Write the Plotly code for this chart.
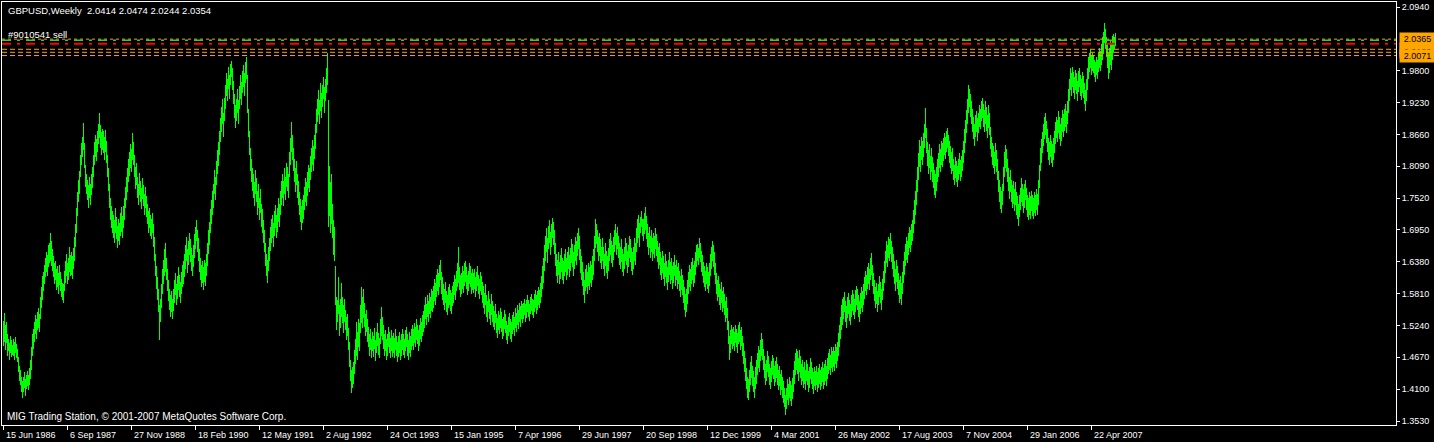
import pandas as pd
import plotly.graph_objects as go

# ---------------- data ----------------
chart_title = "GBPUSD,Weekly\u00a0\u00a02.0414 2.0474 2.0244 2.0354"
order_text = "#9010541 sell"
footer_text = "MIG Trading Station, \u00a9 2001-2007 MetaQuotes Software Corp."
first_week = "1986-06-15"

week_low = [
    1.487, 1.495, 1.480, 1.492, 1.470, 1.478, 1.462, 1.475, 1.468, 1.472,
    1.470, 1.462, 1.475, 1.466, 1.458, 1.440, 1.425, 1.418, 1.405, 1.394,
    1.405, 1.412, 1.398, 1.410, 1.415, 1.408, 1.418, 1.428, 1.445, 1.470,
    1.482, 1.495, 1.508, 1.500, 1.515, 1.520, 1.512, 1.535, 1.555, 1.570,
    1.585, 1.598, 1.610, 1.620, 1.612, 1.628, 1.635, 1.640, 1.630, 1.622,
    1.610, 1.598, 1.605, 1.588, 1.592, 1.580, 1.596, 1.585, 1.575, 1.570,
    1.564, 1.585, 1.600, 1.612, 1.598, 1.605, 1.620, 1.612, 1.615, 1.608,
    1.625, 1.640, 1.665, 1.690, 1.720, 1.745, 1.760, 1.790, 1.812, 1.825,
    1.838, 1.805, 1.772, 1.760, 1.748, 1.735, 1.752, 1.740, 1.758, 1.770,
    1.790, 1.812, 1.825, 1.818, 1.835, 1.848, 1.860, 1.842, 1.830, 1.838,
    1.832, 1.820, 1.835, 1.815, 1.790, 1.765, 1.735, 1.712, 1.698, 1.690,
    1.680, 1.672, 1.690, 1.678, 1.662, 1.675, 1.668, 1.684, 1.692, 1.680,
    1.698, 1.712, 1.735, 1.748, 1.762, 1.780, 1.792, 1.805, 1.798, 1.820,
    1.812, 1.790, 1.768, 1.775, 1.752, 1.740, 1.758, 1.745, 1.732, 1.750,
    1.738, 1.722, 1.735, 1.718, 1.705, 1.690, 1.698, 1.685, 1.678, 1.690,
    1.665, 1.640, 1.612, 1.590, 1.570, 1.548, 1.498, 1.530, 1.555, 1.580,
    1.598, 1.612, 1.620, 1.605, 1.585, 1.568, 1.552, 1.540, 1.548, 1.535,
    1.550, 1.565, 1.578, 1.560, 1.572, 1.588, 1.575, 1.565, 1.580, 1.592,
    1.598, 1.610, 1.625, 1.640, 1.618, 1.632, 1.650, 1.638, 1.622, 1.612,
    1.628, 1.645, 1.660, 1.675, 1.655, 1.640, 1.620, 1.605, 1.592, 1.600,
    1.588, 1.602, 1.595, 1.612, 1.630, 1.652, 1.668, 1.690, 1.705, 1.722,
    1.735, 1.760, 1.748, 1.775, 1.795, 1.810, 1.830, 1.852, 1.870, 1.885,
    1.862, 1.890, 1.912, 1.935, 1.925, 1.948, 1.930, 1.955, 1.968, 1.945,
    1.920, 1.895, 1.878, 1.890, 1.905, 1.885, 1.912, 1.930, 1.918, 1.940,
    1.950, 1.935, 1.958, 1.965, 1.905, 1.862, 1.830, 1.800, 1.780, 1.765,
    1.752, 1.738, 1.760, 1.745, 1.722, 1.735, 1.712, 1.725, 1.700, 1.690,
    1.672, 1.655, 1.630, 1.612, 1.600, 1.622, 1.640, 1.658, 1.672, 1.680,
    1.665, 1.685, 1.698, 1.680, 1.692, 1.710, 1.700, 1.722, 1.740, 1.752,
    1.738, 1.760, 1.748, 1.772, 1.765, 1.752, 1.790, 1.812, 1.835, 1.820,
    1.800, 1.780, 1.762, 1.775, 1.752, 1.740, 1.722, 1.710, 1.695, 1.708,
    1.715, 1.730, 1.745, 1.738, 1.755, 1.770, 1.762, 1.785, 1.798, 1.812,
    1.800, 1.822, 1.840, 1.868, 1.888, 1.900, 1.885, 1.908, 1.895, 1.915,
    1.930, 1.905, 1.925, 1.940, 1.955, 1.700, 1.720, 1.690, 1.705, 1.680,
    1.650, 1.640, 1.560, 1.515, 1.530, 1.545, 1.505, 1.520, 1.540, 1.528,
    1.510, 1.530, 1.515, 1.498, 1.505, 1.480, 1.450, 1.425, 1.403, 1.412,
    1.420, 1.438, 1.455, 1.470, 1.462, 1.485, 1.478, 1.510, 1.528, 1.520,
    1.538, 1.522, 1.505, 1.512, 1.495, 1.485, 1.470, 1.480, 1.465, 1.478,
    1.468, 1.482, 1.460, 1.475, 1.488, 1.472, 1.465, 1.490, 1.505, 1.498,
    1.482, 1.470, 1.478, 1.462, 1.470, 1.485, 1.475, 1.465, 1.478, 1.468,
    1.475, 1.465, 1.480, 1.470, 1.458, 1.468, 1.475, 1.462, 1.470, 1.480,
    1.472, 1.465, 1.478, 1.485, 1.470, 1.462, 1.475, 1.468, 1.480, 1.488,
    1.480, 1.492, 1.485, 1.498, 1.490, 1.478, 1.488, 1.500, 1.495, 1.505,
    1.512, 1.520, 1.535, 1.525, 1.540, 1.530, 1.545, 1.538, 1.550, 1.548,
    1.555, 1.568, 1.560, 1.575, 1.585, 1.578, 1.592, 1.605, 1.580, 1.570,
    1.560, 1.552, 1.565, 1.548, 1.542, 1.555, 1.560, 1.550, 1.545, 1.558,
    1.565, 1.578, 1.570, 1.585, 1.592, 1.600, 1.588, 1.575, 1.580, 1.590,
    1.582, 1.595, 1.602, 1.590, 1.578, 1.585, 1.598, 1.592, 1.580, 1.588,
    1.582, 1.590, 1.575, 1.585, 1.595, 1.580, 1.572, 1.585, 1.578, 1.565,
    1.555, 1.545, 1.560, 1.540, 1.530, 1.548, 1.535, 1.525, 1.542, 1.530,
    1.522, 1.515, 1.528, 1.510, 1.502, 1.515, 1.508, 1.520, 1.512, 1.500,
    1.505, 1.518, 1.510, 1.498, 1.490, 1.505, 1.512, 1.500, 1.495, 1.508,
    1.515, 1.505, 1.520, 1.512, 1.525, 1.518, 1.530, 1.522, 1.535, 1.528,
    1.535, 1.542, 1.530, 1.538, 1.548, 1.540, 1.532, 1.545, 1.550, 1.542,
    1.538, 1.548, 1.555, 1.545, 1.552, 1.560, 1.555, 1.565, 1.575, 1.590,
    1.600, 1.622, 1.640, 1.655, 1.635, 1.660, 1.672, 1.650, 1.665, 1.680,
    1.668, 1.652, 1.630, 1.612, 1.600, 1.615, 1.598, 1.608, 1.620, 1.605,
    1.598, 1.612, 1.620, 1.605, 1.615, 1.625, 1.610, 1.622, 1.635, 1.628,
    1.612, 1.625, 1.640, 1.632, 1.648, 1.660, 1.642, 1.618, 1.605, 1.595,
    1.578, 1.564, 1.585, 1.592, 1.580, 1.595, 1.588, 1.600, 1.592, 1.605,
    1.615, 1.640, 1.662, 1.670, 1.655, 1.640, 1.648, 1.635, 1.625, 1.640,
    1.625, 1.612, 1.630, 1.618, 1.608, 1.622, 1.640, 1.650, 1.635, 1.628,
    1.642, 1.655, 1.668, 1.650, 1.660, 1.645, 1.632, 1.625, 1.638, 1.620,
    1.612, 1.625, 1.640, 1.632, 1.618, 1.628, 1.645, 1.638, 1.622, 1.615,
    1.625, 1.640, 1.632, 1.655, 1.672, 1.680, 1.665, 1.690, 1.700, 1.685,
    1.675, 1.688, 1.695, 1.678, 1.665, 1.650, 1.662, 1.645, 1.655, 1.640,
    1.652, 1.645, 1.660, 1.648, 1.638, 1.625, 1.632, 1.615, 1.605, 1.618,
    1.608, 1.595, 1.610, 1.600, 1.588, 1.602, 1.615, 1.598, 1.605, 1.590,
    1.600, 1.612, 1.595, 1.605, 1.590, 1.598, 1.585, 1.575, 1.588, 1.578,
    1.565, 1.552, 1.540, 1.548, 1.562, 1.580, 1.592, 1.585, 1.598, 1.605,
    1.592, 1.600, 1.615, 1.628, 1.640, 1.632, 1.645, 1.638, 1.620, 1.612,
    1.600, 1.592, 1.585, 1.598, 1.590, 1.582, 1.595, 1.612, 1.625, 1.640,
    1.628, 1.615, 1.598, 1.580, 1.568, 1.575, 1.560, 1.552, 1.565, 1.548,
    1.555, 1.542, 1.530, 1.538, 1.515, 1.490, 1.462, 1.475, 1.490, 1.482,
    1.488, 1.478, 1.492, 1.485, 1.475, 1.490, 1.495, 1.480, 1.488, 1.470,
    1.455, 1.440, 1.425, 1.410, 1.395, 1.391, 1.405, 1.418, 1.430, 1.415,
    1.405, 1.395, 1.410, 1.420, 1.435, 1.448, 1.440, 1.460, 1.470, 1.462,
    1.445, 1.430, 1.418, 1.425, 1.440, 1.432, 1.418, 1.410, 1.422, 1.435,
    1.428, 1.415, 1.422, 1.430, 1.418, 1.408, 1.415, 1.400, 1.408, 1.395,
    1.385, 1.378, 1.364, 1.375, 1.390, 1.382, 1.395, 1.388, 1.380, 1.392,
    1.405, 1.420, 1.435, 1.445, 1.438, 1.425, 1.440, 1.430, 1.418, 1.425,
    1.412, 1.420, 1.408, 1.425, 1.418, 1.405, 1.412, 1.428, 1.420, 1.410,
    1.402, 1.415, 1.408, 1.418, 1.405, 1.412, 1.420, 1.408, 1.415, 1.422,
    1.410, 1.418, 1.425, 1.415, 1.428, 1.438, 1.445, 1.435, 1.448, 1.440,
    1.450, 1.442, 1.455, 1.448, 1.460, 1.470, 1.485, 1.500, 1.515, 1.525,
    1.535, 1.548, 1.530, 1.520, 1.538, 1.545, 1.532, 1.525, 1.540, 1.550,
    1.542, 1.535, 1.548, 1.560, 1.552, 1.540, 1.530, 1.545, 1.555, 1.548,
    1.560, 1.572, 1.585, 1.578, 1.590, 1.598, 1.588, 1.605, 1.615, 1.595,
    1.580, 1.568, 1.555, 1.562, 1.548, 1.560, 1.575, 1.565, 1.552, 1.570,
    1.585, 1.600, 1.618, 1.635, 1.628, 1.645, 1.640, 1.652, 1.638, 1.625,
    1.610, 1.598, 1.585, 1.602, 1.590, 1.578, 1.565, 1.572, 1.560, 1.580,
    1.600, 1.615, 1.630, 1.642, 1.635, 1.650, 1.662, 1.655, 1.668, 1.675,
    1.690, 1.705, 1.722, 1.740, 1.762, 1.785, 1.808, 1.798, 1.820, 1.812,
    1.825, 1.842, 1.860, 1.832, 1.810, 1.795, 1.805, 1.785, 1.798, 1.780,
    1.770, 1.758, 1.752, 1.765, 1.780, 1.790, 1.805, 1.798, 1.812, 1.808,
    1.818, 1.830, 1.822, 1.835, 1.842, 1.828, 1.815, 1.805, 1.795, 1.800,
    1.785, 1.775, 1.788, 1.780, 1.772, 1.785, 1.795, 1.782, 1.790, 1.800,
    1.815, 1.832, 1.850, 1.868, 1.885, 1.905, 1.915, 1.898, 1.885, 1.870,
    1.858, 1.845, 1.862, 1.870, 1.855, 1.868, 1.880, 1.875, 1.890, 1.895,
    1.880, 1.870, 1.885, 1.872, 1.860, 1.878, 1.865, 1.840, 1.825, 1.812,
    1.805, 1.795, 1.810, 1.798, 1.785, 1.762, 1.745, 1.732, 1.725, 1.740,
    1.765, 1.790, 1.805, 1.798, 1.780, 1.765, 1.750, 1.762, 1.745, 1.735,
    1.742, 1.728, 1.740, 1.722, 1.715, 1.702, 1.718, 1.730, 1.745, 1.738,
    1.725, 1.735, 1.748, 1.730, 1.718, 1.712, 1.722, 1.715, 1.728, 1.720,
    1.715, 1.725, 1.720, 1.730, 1.722, 1.740, 1.770, 1.800, 1.815, 1.832,
    1.845, 1.858, 1.865, 1.850, 1.835, 1.820, 1.812, 1.825, 1.815, 1.808,
    1.820, 1.832, 1.848, 1.860, 1.852, 1.868, 1.858, 1.845, 1.855, 1.870,
    1.862, 1.872, 1.880, 1.868, 1.885, 1.905, 1.925, 1.945, 1.935, 1.950,
    1.940, 1.930, 1.945, 1.938, 1.925, 1.942, 1.950, 1.935, 1.928, 1.940,
    1.932, 1.920, 1.907, 1.925, 1.945, 1.965, 1.978, 1.985, 1.972, 1.980,
    1.975, 1.968, 1.960, 1.972, 1.965, 1.978, 1.985, 1.980, 1.990, 2.000,
    2.010, 2.030, 2.018, 2.005, 1.985, 1.965, 1.975, 1.990, 1.982, 2.000,
    2.012, 2.018, 2.0244,
]

week_high = [
    1.532, 1.546, 1.525, 1.530, 1.508, 1.500, 1.492, 1.506, 1.498, 1.489,
    1.500, 1.495, 1.503, 1.490, 1.482, 1.468, 1.452, 1.445, 1.432, 1.425,
    1.432, 1.440, 1.428, 1.436, 1.442, 1.435, 1.448, 1.462, 1.485, 1.508,
    1.518, 1.530, 1.542, 1.535, 1.548, 1.556, 1.545, 1.575, 1.592, 1.612,
    1.620, 1.632, 1.645, 1.656, 1.650, 1.668, 1.672, 1.689, 1.675, 1.660,
    1.648, 1.636, 1.640, 1.625, 1.630, 1.618, 1.632, 1.620, 1.608, 1.600,
    1.598, 1.622, 1.640, 1.652, 1.636, 1.645, 1.664, 1.650, 1.655, 1.648,
    1.662, 1.682, 1.705, 1.735, 1.762, 1.785, 1.800, 1.830, 1.850, 1.862,
    1.886, 1.850, 1.812, 1.795, 1.785, 1.775, 1.790, 1.778, 1.795, 1.808,
    1.830, 1.852, 1.865, 1.858, 1.872, 1.885, 1.904, 1.882, 1.870, 1.876,
    1.872, 1.862, 1.874, 1.855, 1.830, 1.805, 1.778, 1.752, 1.738, 1.728,
    1.722, 1.712, 1.735, 1.718, 1.702, 1.715, 1.708, 1.725, 1.736, 1.720,
    1.738, 1.752, 1.772, 1.790, 1.805, 1.822, 1.835, 1.848, 1.840, 1.869,
    1.852, 1.830, 1.808, 1.815, 1.790, 1.778, 1.796, 1.782, 1.770, 1.788,
    1.776, 1.760, 1.772, 1.755, 1.742, 1.728, 1.735, 1.722, 1.715, 1.725,
    1.705, 1.682, 1.652, 1.630, 1.610, 1.590, 1.560, 1.572, 1.598, 1.625,
    1.642, 1.660, 1.672, 1.645, 1.625, 1.605, 1.590, 1.578, 1.585, 1.572,
    1.590, 1.605, 1.618, 1.598, 1.612, 1.628, 1.615, 1.602, 1.620, 1.632,
    1.640, 1.652, 1.668, 1.682, 1.660, 1.675, 1.690, 1.678, 1.662, 1.650,
    1.668, 1.688, 1.700, 1.712, 1.695, 1.680, 1.660, 1.645, 1.632, 1.640,
    1.628, 1.642, 1.635, 1.652, 1.672, 1.695, 1.710, 1.732, 1.748, 1.765,
    1.778, 1.802, 1.790, 1.818, 1.838, 1.852, 1.872, 1.895, 1.915, 1.930,
    1.905, 1.932, 1.955, 1.975, 1.965, 1.986, 1.972, 1.992, 1.998, 1.985,
    1.962, 1.938, 1.918, 1.930, 1.948, 1.928, 1.952, 1.972, 1.960, 1.980,
    1.990, 1.975, 1.995, 2.004, 1.972, 1.912, 1.872, 1.842, 1.822, 1.805,
    1.795, 1.780, 1.802, 1.788, 1.765, 1.778, 1.752, 1.768, 1.742, 1.732,
    1.712, 1.695, 1.672, 1.652, 1.642, 1.665, 1.680, 1.700, 1.715, 1.722,
    1.708, 1.728, 1.740, 1.722, 1.735, 1.752, 1.742, 1.765, 1.782, 1.795,
    1.782, 1.805, 1.790, 1.815, 1.808, 1.795, 1.835, 1.860, 1.888, 1.865,
    1.842, 1.822, 1.805, 1.818, 1.795, 1.782, 1.762, 1.750, 1.738, 1.748,
    1.758, 1.772, 1.788, 1.780, 1.798, 1.812, 1.805, 1.828, 1.842, 1.856,
    1.845, 1.865, 1.885, 1.912, 1.930, 1.945, 1.928, 1.958, 1.940, 1.955,
    1.968, 1.950, 1.965, 1.985, 2.012, 1.928, 1.810, 1.780, 1.795, 1.742,
    1.712, 1.700, 1.630, 1.575, 1.570, 1.610, 1.560, 1.572, 1.600, 1.575,
    1.560, 1.572, 1.552, 1.540, 1.545, 1.520, 1.495, 1.462, 1.445, 1.450,
    1.458, 1.480, 1.500, 1.530, 1.512, 1.535, 1.528, 1.560, 1.592, 1.575,
    1.590, 1.565, 1.545, 1.552, 1.535, 1.522, 1.508, 1.518, 1.500, 1.512,
    1.505, 1.520, 1.498, 1.512, 1.528, 1.510, 1.502, 1.535, 1.557, 1.540,
    1.525, 1.508, 1.515, 1.500, 1.508, 1.522, 1.512, 1.502, 1.515, 1.505,
    1.510, 1.502, 1.518, 1.505, 1.495, 1.505, 1.512, 1.498, 1.508, 1.518,
    1.508, 1.500, 1.515, 1.522, 1.508, 1.498, 1.512, 1.505, 1.518, 1.525,
    1.518, 1.528, 1.522, 1.535, 1.525, 1.515, 1.525, 1.538, 1.530, 1.542,
    1.550, 1.560, 1.575, 1.562, 1.578, 1.568, 1.582, 1.575, 1.590, 1.585,
    1.595, 1.608, 1.600, 1.615, 1.625, 1.618, 1.632, 1.641, 1.620, 1.610,
    1.598, 1.590, 1.602, 1.585, 1.578, 1.592, 1.598, 1.588, 1.582, 1.595,
    1.602, 1.615, 1.608, 1.622, 1.635, 1.664, 1.628, 1.615, 1.618, 1.630,
    1.622, 1.635, 1.640, 1.628, 1.615, 1.622, 1.635, 1.630, 1.618, 1.625,
    1.618, 1.625, 1.610, 1.620, 1.630, 1.615, 1.608, 1.620, 1.612, 1.602,
    1.595, 1.582, 1.598, 1.578, 1.568, 1.585, 1.572, 1.562, 1.580, 1.568,
    1.558, 1.550, 1.562, 1.545, 1.538, 1.550, 1.542, 1.555, 1.548, 1.535,
    1.540, 1.552, 1.545, 1.532, 1.525, 1.540, 1.546, 1.535, 1.530, 1.542,
    1.548, 1.540, 1.555, 1.546, 1.560, 1.552, 1.565, 1.558, 1.568, 1.562,
    1.565, 1.572, 1.562, 1.570, 1.578, 1.570, 1.562, 1.575, 1.580, 1.572,
    1.570, 1.580, 1.588, 1.578, 1.585, 1.592, 1.588, 1.600, 1.612, 1.630,
    1.645, 1.668, 1.685, 1.698, 1.680, 1.702, 1.712, 1.692, 1.705, 1.716,
    1.710, 1.695, 1.672, 1.652, 1.642, 1.655, 1.638, 1.650, 1.662, 1.645,
    1.640, 1.652, 1.660, 1.645, 1.655, 1.665, 1.650, 1.662, 1.678, 1.670,
    1.655, 1.668, 1.682, 1.675, 1.690, 1.698, 1.685, 1.660, 1.648, 1.638,
    1.620, 1.605, 1.625, 1.632, 1.620, 1.635, 1.628, 1.640, 1.632, 1.648,
    1.660, 1.685, 1.715, 1.705, 1.695, 1.682, 1.690, 1.678, 1.665, 1.680,
    1.665, 1.652, 1.672, 1.658, 1.648, 1.662, 1.678, 1.690, 1.675, 1.668,
    1.682, 1.695, 1.705, 1.690, 1.700, 1.685, 1.672, 1.665, 1.678, 1.660,
    1.652, 1.665, 1.680, 1.672, 1.658, 1.668, 1.685, 1.678, 1.662, 1.655,
    1.665, 1.680, 1.672, 1.698, 1.715, 1.722, 1.708, 1.718, 1.728, 1.715,
    1.715, 1.725, 1.736, 1.720, 1.705, 1.690, 1.700, 1.685, 1.695, 1.680,
    1.690, 1.685, 1.698, 1.688, 1.675, 1.665, 1.672, 1.655, 1.645, 1.658,
    1.648, 1.635, 1.652, 1.640, 1.628, 1.642, 1.655, 1.638, 1.645, 1.630,
    1.638, 1.650, 1.632, 1.642, 1.628, 1.635, 1.622, 1.612, 1.625, 1.615,
    1.605, 1.592, 1.580, 1.590, 1.605, 1.620, 1.632, 1.625, 1.638, 1.645,
    1.632, 1.640, 1.655, 1.668, 1.670, 1.662, 1.680, 1.672, 1.658, 1.650,
    1.638, 1.630, 1.622, 1.635, 1.628, 1.620, 1.635, 1.652, 1.665, 1.675,
    1.668, 1.655, 1.635, 1.618, 1.605, 1.612, 1.598, 1.590, 1.602, 1.585,
    1.592, 1.580, 1.568, 1.575, 1.555, 1.532, 1.505, 1.515, 1.525, 1.518,
    1.522, 1.512, 1.525, 1.518, 1.510, 1.525, 1.530, 1.515, 1.522, 1.505,
    1.492, 1.478, 1.465, 1.448, 1.432, 1.428, 1.445, 1.458, 1.470, 1.452,
    1.442, 1.432, 1.450, 1.462, 1.475, 1.488, 1.480, 1.498, 1.510, 1.500,
    1.482, 1.470, 1.455, 1.462, 1.478, 1.470, 1.455, 1.448, 1.460, 1.472,
    1.465, 1.452, 1.460, 1.468, 1.455, 1.445, 1.452, 1.438, 1.445, 1.432,
    1.425, 1.412, 1.400, 1.412, 1.428, 1.420, 1.432, 1.425, 1.418, 1.430,
    1.445, 1.460, 1.475, 1.482, 1.478, 1.465, 1.480, 1.470, 1.455, 1.462,
    1.450, 1.458, 1.445, 1.462, 1.455, 1.442, 1.450, 1.465, 1.458, 1.448,
    1.440, 1.450, 1.442, 1.452, 1.440, 1.448, 1.455, 1.445, 1.450, 1.458,
    1.448, 1.455, 1.462, 1.452, 1.465, 1.475, 1.482, 1.472, 1.485, 1.478,
    1.485, 1.478, 1.490, 1.485, 1.495, 1.510, 1.525, 1.540, 1.560, 1.572,
    1.575, 1.584, 1.568, 1.558, 1.575, 1.582, 1.570, 1.562, 1.578, 1.588,
    1.580, 1.572, 1.588, 1.595, 1.590, 1.578, 1.568, 1.582, 1.592, 1.585,
    1.598, 1.610, 1.622, 1.615, 1.628, 1.635, 1.625, 1.645, 1.654, 1.632,
    1.618, 1.605, 1.592, 1.600, 1.585, 1.598, 1.612, 1.602, 1.590, 1.608,
    1.622, 1.640, 1.658, 1.675, 1.668, 1.682, 1.678, 1.689, 1.675, 1.665,
    1.652, 1.640, 1.625, 1.642, 1.630, 1.618, 1.605, 1.612, 1.600, 1.620,
    1.640, 1.655, 1.670, 1.682, 1.675, 1.690, 1.700, 1.695, 1.705, 1.712,
    1.730, 1.748, 1.765, 1.785, 1.808, 1.832, 1.856, 1.845, 1.862, 1.855,
    1.868, 1.885, 1.913, 1.878, 1.852, 1.838, 1.848, 1.828, 1.842, 1.825,
    1.815, 1.802, 1.795, 1.808, 1.822, 1.832, 1.848, 1.840, 1.855, 1.850,
    1.860, 1.868, 1.862, 1.872, 1.877, 1.865, 1.855, 1.845, 1.835, 1.842,
    1.822, 1.812, 1.825, 1.818, 1.810, 1.822, 1.832, 1.820, 1.828, 1.838,
    1.855, 1.875, 1.892, 1.910, 1.930, 1.954, 1.948, 1.938, 1.925, 1.912,
    1.898, 1.885, 1.900, 1.908, 1.895, 1.905, 1.918, 1.912, 1.925, 1.931,
    1.920, 1.910, 1.925, 1.915, 1.900, 1.918, 1.905, 1.880, 1.862, 1.850,
    1.845, 1.835, 1.850, 1.838, 1.822, 1.800, 1.785, 1.772, 1.765, 1.778,
    1.808, 1.835, 1.847, 1.840, 1.822, 1.805, 1.790, 1.802, 1.785, 1.775,
    1.782, 1.768, 1.780, 1.762, 1.755, 1.742, 1.758, 1.770, 1.788, 1.778,
    1.768, 1.778, 1.784, 1.770, 1.758, 1.752, 1.762, 1.755, 1.765, 1.758,
    1.752, 1.762, 1.758, 1.768, 1.760, 1.785, 1.812, 1.842, 1.858, 1.870,
    1.885, 1.898, 1.905, 1.890, 1.875, 1.860, 1.852, 1.865, 1.855, 1.848,
    1.860, 1.872, 1.888, 1.898, 1.892, 1.908, 1.898, 1.885, 1.895, 1.910,
    1.902, 1.912, 1.920, 1.908, 1.925, 1.948, 1.965, 1.985, 1.975, 1.987,
    1.978, 1.968, 1.982, 1.975, 1.962, 1.980, 1.985, 1.972, 1.965, 1.978,
    1.970, 1.958, 1.945, 1.965, 1.985, 2.005, 2.012, 2.018, 2.008, 2.012,
    2.008, 2.000, 1.995, 2.005, 2.000, 2.012, 2.020, 2.015, 2.028, 2.040,
    2.050, 2.065, 2.055, 2.040, 2.030, 2.012, 2.020, 2.035, 2.028, 2.042,
    2.045, 2.040, 2.0474,
]

date_labels = ["15 Jun 1986", "6 Sep 1987", "27 Nov 1988", "18 Feb 1990", "12 May 1991",
               "2 Aug 1992", "24 Oct 1993", "15 Jan 1995", "7 Apr 1996", "29 Jun 1997",
               "20 Sep 1998", "12 Dec 1999", "4 Mar 2001", "26 May 2002", "17 Aug 2003",
               "7 Nov 2004", "29 Jan 2006", "22 Apr 2007"]

price_ticks = [2.0940, 1.9800, 1.9230, 1.8660, 1.8090, 1.7520, 1.6950, 1.6380,
               1.5810, 1.5240, 1.4670, 1.4100, 1.3530]

orange_levels = [2.0365, 2.0183, 2.0129, 2.0071]
order_level = 2.0344      # green dashed order line
stop_level = 2.0283       # red dash-dot line

assert len(week_low) == len(week_high), (len(week_low), len(week_high))

# ---------------- layout geometry ----------------
W, H = 1434, 442
ML, MR, MT, MB = 2, 38, 2, 17
PW, PH = W - ML - MR, H - MT - MB
Y_MIN, Y_MAX = 1.34584, 2.10295

FONT = "Liberation Sans, Arial, sans-serif"
WHITE = "#FFFFFF"
BAR_GREEN = "#00FF00"
ORANGE = "#FFA500"

week_ms = 7 * 24 * 3600 * 1000
weeks = pd.date_range(first_week, periods=len(week_low), freq="7D")
start = pd.Timestamp(first_week)
x_range = [start - pd.Timedelta(days=7 * 1.5), start + pd.Timedelta(days=7 * (PW - 1.5))]
label_dates = [pd.to_datetime(s, format="%d %b %Y") for s in date_labels]


def px_x(px):
    return (px - ML) / PW


def px_y(py):
    return (MT + PH - py) / PH


fig = go.Figure()
fig.add_trace(go.Bar(
    x=weeks,
    base=week_low,
    y=[h - l for l, h in zip(week_low, week_high)],
    width=week_ms,
    marker=dict(color=BAR_GREEN, line=dict(width=0)),
    hoverinfo="skip",
    showlegend=False,
))

shapes = []
for lvl, dash in zip(orange_levels, ["3px,3px", "5px,3px", "5px,3px", "5px,3px"]):
    shapes.append(dict(type="line", xref="paper", x0=0, x1=1, yref="y", y0=lvl, y1=lvl,
                       line=dict(color=ORANGE, width=1, dash=dash), layer="above"))
shapes.append(dict(type="line", xref="paper", x0=0, x1=1, yref="y", y0=order_level, y1=order_level,
                   line=dict(color="#32CD32", width=1.5, dash="9px,6px,3px,6px"), layer="above"))
shapes.append(dict(type="line", xref="paper", x0=0, x1=1, yref="y", y0=stop_level, y1=stop_level,
                   line=dict(color="#FF0000", width=2, dash="9px,6px,3px,6px"), layer="above"))

annotations = []
for d, txt in zip(label_dates, date_labels):
    annotations.append(dict(x=d, xref="x", y=0, yref="paper", yshift=-3, text=txt,
                            showarrow=False, xanchor="left", yanchor="top", xshift=0,
                            font=dict(family=FONT, size=9, color=WHITE)))
annotations.append(dict(x=px_x(6), y=px_y(10.5), xref="paper", yref="paper", text=chart_title,
                        showarrow=False, xanchor="left", yanchor="middle",
                        font=dict(family=FONT, size=9.5, color=WHITE)))
annotations.append(dict(x=px_x(6), y=px_y(34), xref="paper", yref="paper", text=order_text,
                        showarrow=False, xanchor="left", yanchor="middle",
                        font=dict(family=FONT, size=9.5, color=WHITE)))
annotations.append(dict(x=px_x(5), y=px_y(416.5), xref="paper", yref="paper", text=footer_text,
                        showarrow=False, xanchor="left", yanchor="middle",
                        font=dict(family=FONT, size=10, color=WHITE)))
for lvl in [orange_levels[1], orange_levels[2], orange_levels[0], orange_levels[3]]:
    annotations.append(dict(x=px_x(1399), xref="paper", y=lvl, yref="y", text=f"{lvl:.4f}",
                            showarrow=False, xanchor="left", yanchor="middle",
                            bgcolor=ORANGE, borderpad=0, width=35, height=12, align="center",
                            font=dict(family=FONT, size=9, color="#000000")))

fig.update_layout(
    width=W, height=H,
    margin=dict(l=ML, r=MR, t=MT, b=MB, pad=0, autoexpand=False),
    paper_bgcolor="#000000", plot_bgcolor="#000000",
    bargap=0, showlegend=False,
    shapes=shapes, annotations=annotations,
    xaxis=dict(type="date", range=x_range, showgrid=False, zeroline=False, automargin=False,
               showline=True, mirror=True, linecolor=WHITE, linewidth=1,
               ticks="outside", ticklen=4, tickcolor=WHITE, tickwidth=1,
               tickvals=label_dates, showticklabels=False, fixedrange=True),
    yaxis=dict(side="right", range=[Y_MIN, Y_MAX], showgrid=False, zeroline=False, automargin=False,
               showline=True, mirror=True, linecolor=WHITE, linewidth=1,
               ticks="outside", ticklen=3, tickcolor=WHITE, tickwidth=1,
               tickvals=price_ticks, ticktext=[f"{v:.4f}" for v in price_ticks],
               tickfont=dict(family=FONT, size=9, color=WHITE), fixedrange=True),
)

fig.write_html(
    "out.html",
    config={"displayModeBar": False},
    post_script="document.body.style.margin='0px';document.body.style.background='#000';",
)
